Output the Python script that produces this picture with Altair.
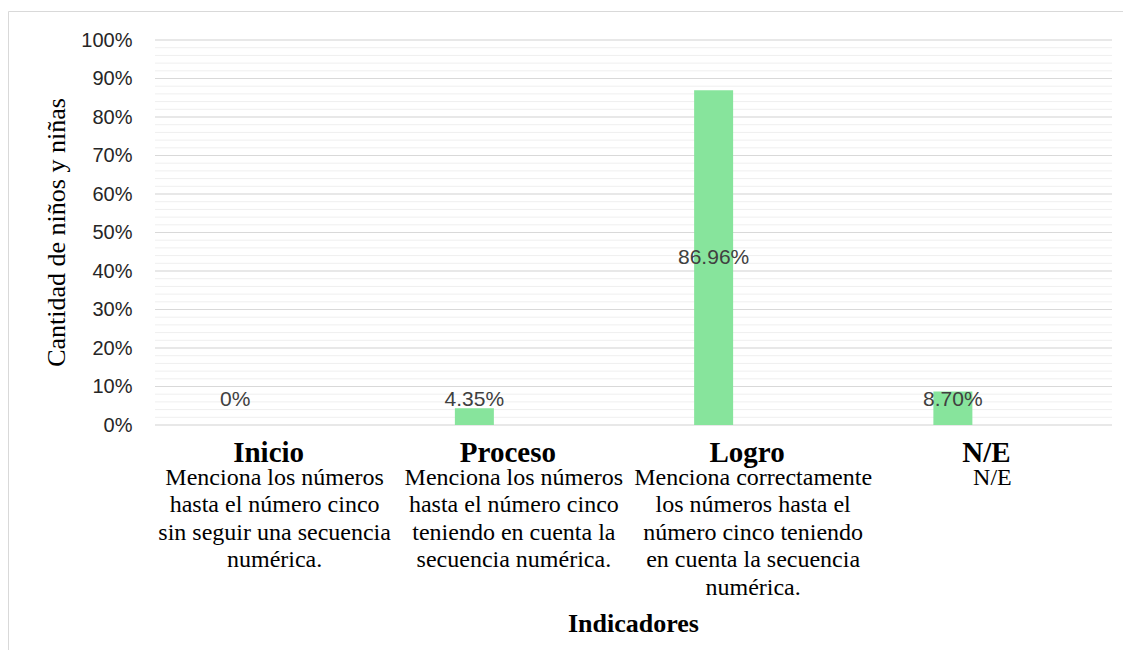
import altair as alt
import pandas as pd

# ---- data ----
categories = ["Inicio", "Proceso", "Logro", "N/E"]
values = [0.0, 0.0435, 0.8696, 0.0870]
value_labels = ["0%", "4.35%", "86.96%", "8.70%"]
descriptions = [
    "Menciona los números\nhasta el número cinco\nsin seguir una secuencia\nnumérica.",
    "Menciona los números\nhasta el número cinco\nteniendo en cuenta la\nsecuencia numérica.",
    "Menciona correctamente\nlos números hasta el\nnúmero cinco teniendo\nen cuenta la secuencia\nnumérica.",
    "N/E",
]
y_ticks = [0.0, 0.1, 0.2, 0.3, 0.4, 0.5, 0.6, 0.7, 0.8, 0.9, 1.0]
y_title = "Cantidad de niños y niñas"
x_title = "Indicadores"

W, H = 957, 385
BAR_COLOR = "#87E49C"
SERIF = "Liberation Serif"
SANS = "Liberation Sans"

df = pd.DataFrame({
    "cat": categories,
    "value": values,
    "label": value_labels,
    "desc": descriptions,
})

x_enc = alt.X("cat:N", sort=categories, axis=None,
              scale=alt.Scale(paddingInner=0, paddingOuter=0))
y_scale = alt.Scale(domain=[0, 1], nice=False, zero=True)
y_axis = alt.Axis(values=y_ticks, format=".0%", grid=False, domain=False,
                  ticks=False, labelFont=SANS, labelFontSize=20,
                  labelColor="#262626", labelPadding=23, title=None)

base = alt.Chart(df)

minor_grid = alt.Chart(alt.sequence(0, 1.0001, 0.02, as_="v")).mark_rule(
    color="#efefef", strokeWidth=1
).encode(
    y=alt.Y("v:Q", scale=y_scale, axis=y_axis),
    x=alt.value(0), x2=alt.value(W),
)

major_grid = alt.Chart(pd.DataFrame({"v": y_ticks})).mark_rule(
    color="#d9d9d9", strokeWidth=1
).encode(
    y=alt.Y("v:Q", scale=y_scale, axis=y_axis),
    x=alt.value(0), x2=alt.value(W),
)

bars = base.mark_bar(size=39, xOffset=-39.5, color=BAR_COLOR).encode(
    x=x_enc,
    y=alt.Y("value:Q", scale=y_scale, axis=y_axis),
)

data_labels = base.transform_calculate(
    ly="max(datum.value / 2, 0.065)"
).mark_text(
    xOffset=-39.5, font=SANS, fontSize=21, color="#404040", baseline="middle"
).encode(
    x=x_enc,
    y=alt.Y("ly:Q", scale=y_scale, axis=y_axis),
    text="label:N",
)

cat_labels = base.mark_text(
    font=SERIF, fontWeight="bold", fontSize=29, color="#000000",
    baseline="alphabetic", dx=-6
).encode(
    x=x_enc,
    y=alt.value(422),
    text="cat:N",
)

desc_labels = base.mark_text(
    font=SERIF, fontSize=24, color="#000000", baseline="alphabetic",
    lineBreak="\n", lineHeight=27.4
).encode(
    x=x_enc,
    y=alt.value(445),
    text="desc:N",
)

titles_df = pd.DataFrame({"t": [x_title]})
x_title_mark = alt.Chart(titles_df).mark_text(
    font=SERIF, fontWeight="bold", fontSize=26, color="#000000", baseline="alphabetic"
).encode(x=alt.value(W / 2), y=alt.value(592), text="t:N")

y_title_mark = alt.Chart(pd.DataFrame({"t": [y_title]})).mark_text(
    font=SERIF, fontSize=26, color="#000000", angle=270, baseline="middle"
).encode(x=alt.value(-98), y=alt.value(H / 2), text="t:N")

one = pd.DataFrame({"k": [0]})
border_top = alt.Chart(one).mark_rule(color="#d9d9d9", strokeWidth=1).encode(
    x=alt.value(-146.5), x2=alt.value(W + 20), y=alt.value(-28.5)
)
border_left = alt.Chart(one).mark_rule(color="#d9d9d9", strokeWidth=1).encode(
    x=alt.value(-146.5), y=alt.value(-28.5), y2=alt.value(H + 240)
)

chart = alt.layer(
    border_top, border_left, minor_grid, major_grid, bars, data_labels,
    cat_labels, desc_labels, x_title_mark, y_title_mark
).properties(
    width=W, height=H,
    autosize=alt.AutoSizeParams(type="none"),
    padding={"left": 147, "top": 32, "right": 11, "bottom": 225},
    background="white",
).configure_view(stroke=None)

chart.save("out.html", embed_options={"renderer": "svg", "actions": False})
